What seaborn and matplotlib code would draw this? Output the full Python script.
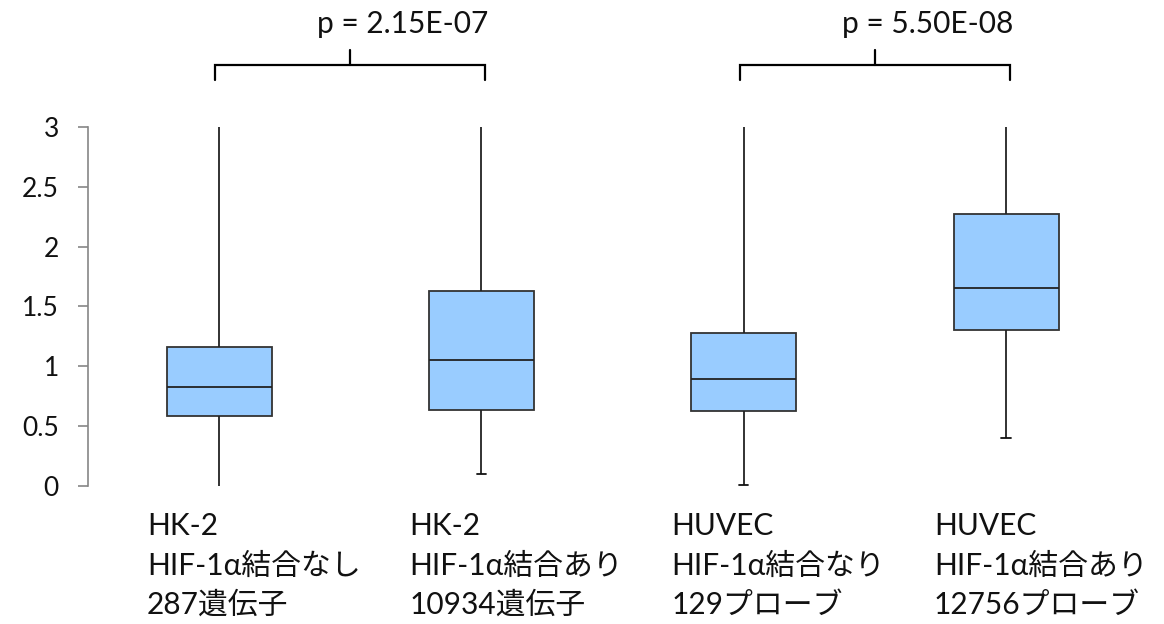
import numpy as np
import pandas as pd
import matplotlib
matplotlib.use("Agg")
import matplotlib.pyplot as plt
import seaborn as sns

# Daten
kategorien = [
    "HK-2\nHIF-1α結合なし\n287遺伝子",
    "HK-2\nHIF-1α結合あり\n10934遺伝子",
    "HUVEC\nHIF-1α結合なり\n129プローブ",
    "HUVEC\nHIF-1α結合あり\n12756プローブ",
]
whisker_unten = [-0.05, 0.098, 0.01, 0.396]
quartil_1 = [0.58, 0.635, 0.625, 1.305]
median = [0.825, 1.053, 0.895, 1.655]
quartil_3 = [1.16, 1.627, 1.279, 2.273]
whisker_oben = [3.3, 3.3, 3.3, 3.3]   # oberhalb der Achse abgeschnitten

vergleiche = [(0, 1), (2, 3)]
p_werte = ["p = 2.15E-07", "p = 5.50E-08"]

y_ticks = [0, 0.5, 1, 1.5, 2, 2.5, 3]

# Fünf Punkte pro Gruppe -> Quartile liegen genau auf den Werten
zeilen = []
for i, k in enumerate(kategorien):
    for v in (whisker_unten[i], quartil_1[i], median[i], quartil_3[i], whisker_oben[i]):
        zeilen.append({"Gruppe": k, "Wert": v})
df = pd.DataFrame(zeilen)

sns.set_style("white")
plt.rcParams["font.family"] = ["Lato", "Noto Sans CJK JP", "DejaVu Sans"]

fig = plt.figure(figsize=(11.64, 6.24), dpi=100)
ax = fig.add_axes([0.0756, 0.2216, 0.9014, 0.5749])

sns.boxplot(
    data=df, x="Gruppe", y="Wert", order=kategorien, ax=ax,
    whis=(0, 100), width=0.4, color="#99CCFF", saturation=1,
    linecolor="#333333", linewidth=1.3, capwidths=0.035,
    whiskerprops=dict(color="#222222", linewidth=1.3),
    capprops=dict(color="#111111", linewidth=1.3),
    medianprops=dict(color="#222222", linewidth=1.3),
)

ax.set_xlim(-0.5, 3.5)
ax.set_ylim(0, 3)
ax.set_yticks(y_ticks)
ax.set_yticklabels([f"{t:g}" for t in y_ticks])
ax.set_xticks([])
ax.set_xlabel("")
ax.set_ylabel("")

for s in ["top", "right", "bottom"]:
    ax.spines[s].set_visible(False)
ax.spines["left"].set_color("#868686")
ax.spines["left"].set_linewidth(1.2)
ax.tick_params(axis="y", direction="out", length=7, width=1.2, color="#868686",
               labelsize=19, labelcolor="#111111", pad=14, left=True)

# Kategorienbeschriftungen
for i, k in enumerate(kategorien):
    ax.text(i - 0.275, -0.22, k, ha="left", va="top", fontsize=21.5,
            linespacing=1.5, color="#111111", clip_on=False)

# Signifikanzklammern
for (a, b), p in zip(vergleiche, p_werte):
    mitte = (a + b) / 2
    ax.plot([a - 0.015, a - 0.015, b + 0.015, b + 0.015], [3.39, 3.515, 3.515, 3.39],
            color="black", linewidth=1.6, clip_on=False, solid_joinstyle="miter")
    ax.plot([mitte, mitte], [3.515, 3.64], color="black", linewidth=1.6, clip_on=False)
    ax.text(mitte - 0.127, 3.785, p, ha="left", va="baseline", fontsize=21.5,
            color="#111111", clip_on=False)

fig.savefig("out.png", dpi=100)
